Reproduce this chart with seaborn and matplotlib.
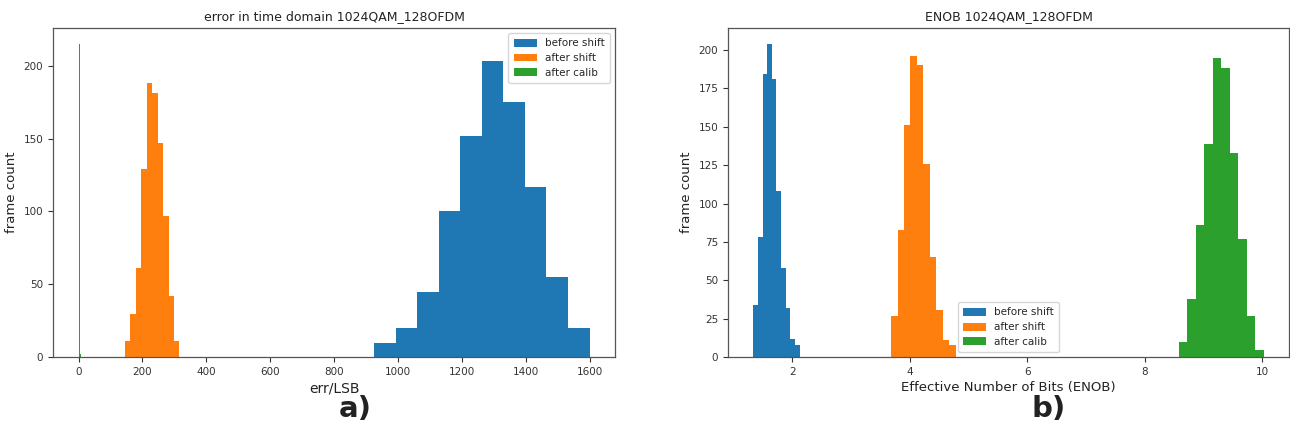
import numpy as np
import pandas as pd
import matplotlib
matplotlib.use("Agg")
import matplotlib.pyplot as plt
from matplotlib.patches import Patch
import seaborn as sns

# ---- data: histogram counts and bin ranges ----
series_names = ["before shift", "after shift", "after calib"]

# panel a) error in time domain (err/LSB)
err_before_counts = [10, 20, 45, 100, 152, 203, 175, 117, 55, 20]
err_before_range = (925.0, 1600.0)
err_after_counts = [11, 30, 61, 129, 188, 181, 147, 97, 42, 11]
err_after_range = (145.0, 316.0)
err_calib_counts = [16, 68, 215, 68, 16, 6, 3, 2, 1, 1]
err_calib_range = (1.0, 8.0)

# panel b) ENOB
enob_before_counts = [34, 78, 184, 204, 181, 108, 58, 32, 12, 8]
enob_before_range = (1.333, 2.12)
enob_after_counts = [27, 83, 151, 196, 190, 126, 65, 31, 11, 8]
enob_after_range = (3.68, 4.78)
enob_calib_counts = [10, 38, 86, 139, 195, 188, 133, 77, 27, 5]
enob_calib_range = (8.58, 10.03)

left_xticks = [0, 200, 400, 600, 800, 1000, 1200, 1400, 1600]
left_yticks = [0, 50, 100, 150, 200]
right_xticks = [2, 4, 6, 8, 10]
right_yticks = [0, 25, 50, 75, 100, 125, 150, 175, 200]

colors = ["#1f77b4", "#ff7f0e", "#2ca02c"]

sns.set_style("ticks")
plt.rcParams["font.family"] = ["DejaVu Sans"]


def binned(counts, rng):
    edges = np.linspace(rng[0], rng[1], len(counts) + 1)
    centers = (edges[:-1] + edges[1:]) / 2
    return pd.DataFrame({"value": centers, "count": counts}), [float(e) for e in edges]


def draw_panel(ax, groups):
    for (counts, rng), color, name in zip(groups, colors, series_names):
        df, edges = binned(counts, rng)
        sns.histplot(data=df, x="value", weights="count", bins=edges,
                     color=color, alpha=1.0, linewidth=0, ax=ax)


fig = plt.figure(figsize=(12.9, 4.37), dpi=100)
ax1 = fig.add_axes([0.0411, 0.1824, 0.4357, 0.7535])
ax2 = fig.add_axes([0.5643, 0.1824, 0.4349, 0.7535])

draw_panel(ax1, [(err_before_counts, err_before_range),
                 (err_after_counts, err_after_range),
                 (err_calib_counts, err_calib_range)])
draw_panel(ax2, [(enob_before_counts, enob_before_range),
                 (enob_after_counts, enob_after_range),
                 (enob_calib_counts, enob_calib_range)])

ax1.set_xlim(-80, 1680)
ax1.set_ylim(0, 215 * 1.05)
ax2.set_xlim(0.9, 10.46)
ax2.set_ylim(0, 204 * 1.05)

ax1.set_xticks(left_xticks)
ax1.set_yticks(left_yticks)
ax2.set_xticks(right_xticks)
ax2.set_yticks(right_yticks)

ax1.set_title("error in time domain 1024QAM_128OFDM", fontsize=9, color="#222")
ax2.set_title("ENOB 1024QAM_128OFDM", fontsize=9, color="#222")
ax1.set_xlabel("err/LSB", fontsize=10, color="#222", labelpad=3)
ax2.set_xlabel("Effective Number of Bits (ENOB)", fontsize=9.5, color="#222", labelpad=3)
for ax in (ax1, ax2):
    ax.set_ylabel("frame count", fontsize=9.5, color="#222")
    ax.tick_params(labelsize=7.5, colors="#333", length=3.5, width=0.8)
    for sp in ax.spines.values():
        sp.set_color("#555")
        sp.set_linewidth(0.9)

handles = [Patch(facecolor=c, edgecolor="none", label=n) for c, n in zip(colors, series_names)]
ax1.legend(handles=handles, loc="upper right", fontsize=7.5, frameon=True,
           handlelength=2.2, handleheight=0.8, borderpad=0.5, labelspacing=0.45)
ax2.legend(handles=handles, loc="lower center", fontsize=7.5, frameon=True,
           handlelength=2.2, handleheight=0.8, borderpad=0.5, labelspacing=0.45)

fig.text(0.275, 0.065, "a)", fontsize=21, fontweight="bold", ha="center", va="center", color="#222")
fig.text(0.813, 0.065, "b)", fontsize=21, fontweight="bold", ha="center", va="center", color="#222")

fig.savefig("out.png", dpi=100)
